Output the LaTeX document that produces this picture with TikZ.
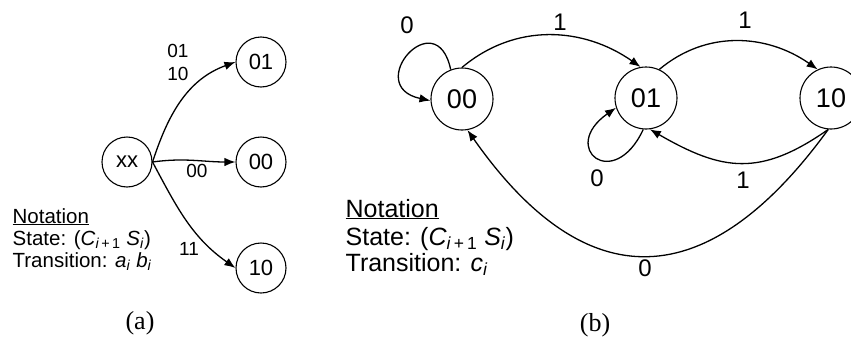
\documentclass[tikz,border=0pt]{standalone}
\usepackage{fontspec}
\setmainfont{Liberation Sans}
\newfontfamily\capfont{Liberation Serif}
\usetikzlibrary{arrows.meta}

\begin{document}
\begin{tikzpicture}[x=1pt,y=1pt,line width=1.3pt,>={Latex[length=11pt,width=8.5pt]}]
\tikzset{sa/.style={circle,draw,line width=1.1pt,inner sep=0pt,minimum size=50pt,font=\fontsize{22}{26}\selectfont}}
\tikzset{sb/.style={circle,draw,line width=1.1pt,inner sep=0pt,minimum size=62pt,font=\fontsize{27}{32}\selectfont}}
\tikzset{la/.style={inner sep=0pt,font=\fontsize{19}{23}\selectfont}}
\tikzset{lb/.style={inner sep=0pt,font=\fontsize{24}{26}\selectfont}}
\tikzset{na/.style={anchor=base west,inner sep=0pt,font=\fontsize{20.5}{22}\selectfont}}
\tikzset{nb/.style={anchor=base west,inner sep=0pt,font=\fontsize{25}{27}\selectfont}}
\tikzset{captext/.style={inner sep=0pt,font=\capfont\fontsize{26}{30}\selectfont}}

\useasboundingbox (0,0) rectangle (851,-343);

\path (127,-162) node[sa] (xx) {xx};
\path (261,-62) node[sa] (a01) {01};
\path (261,-162) node[sa] (a00) {00};
\path (261,-268) node[sa] (a10) {10};

\draw[->] (xx.east) to[out=72,in=200] (a01.west);
\draw[->] (xx.east) to[out=8,in=180] (a00.west);
\draw[->] (xx.east) to[out=-62,in=145] (a10.west);

\path (178,-62) node[la,align=center] (ta01) {01\\10};
\path (197,-171) node[la] (ta00) {00};
\path (189,-249) node[la] (ta10) {11};

\path (12,-223) node[na] (anot) {\underline{Notation}};
\path (12,-245) node[na] (astate) {State: (\textit{C}\textsubscript{\textit{i}\,+\,1} \textit{S}\textsubscript{\textit{i}})};
\path (12,-267) node[na] (atrans) {Transition: \textit{a}\textsubscript{\textit{i}} \textit{b}\textsubscript{\textit{i}}};
\path (140,-323) node[captext] (capa) {(a)};

\path (462,-99) node[sb] (b00) {00};
\path (646,-98) node[sb] (b01) {01};
\path (831,-98) node[sb] (b10) {10};

\draw[->] (b00.111) .. controls +(102:70) and +(168:70) .. (b00.183);
\draw[->] (b00.north) to[out=40,in=145] (b01.100);
\draw[->] (b01.65) to[out=40,in=145] (b10.115);
\draw[->] (b01.265) .. controls +(245:70) and +(215:70) .. (b01.198);
\draw[->] (b10.265) to[out=215,in=330,looseness=1.2] (b01.277);
\draw[->] (b10.265) to[out=234,in=305,looseness=1.46] (b00.280);

\path (407,-25) node[lb] (t0000) {0};
\path (560,-22) node[lb] (t0001) {1};
\path (745,-20) node[lb] (t0110) {1};
\path (597,-178) node[lb] (t0101) {0};
\path (743,-180) node[lb] (t1001) {1};
\path (645,-268) node[lb] (t1000) {0};

\path (345,-217) node[nb] (bnot) {\underline{Notation}};
\path (345,-245) node[nb] (bstate) {State: (\textit{C}\textsubscript{\textit{i}\,+\,1} \textit{S}\textsubscript{\textit{i}})};
\path (345,-271) node[nb] (btrans) {Transition: \textit{c}\textsubscript{\textit{i}}};
\path (595,-325) node[captext] (capb) {(b)};
\end{tikzpicture}
\end{document}
